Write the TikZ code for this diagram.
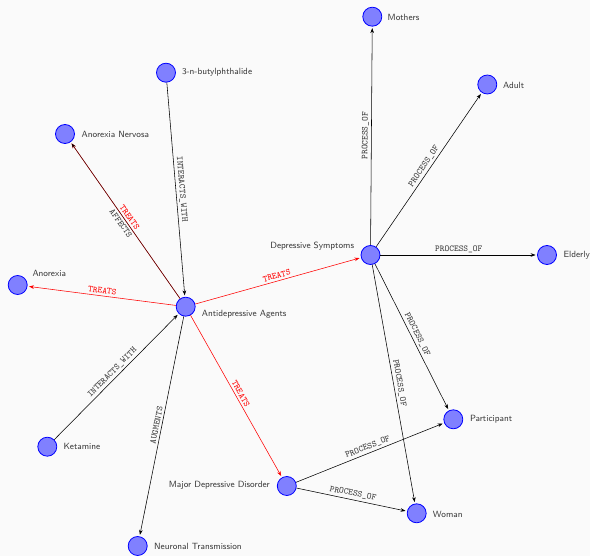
\documentclass[tikz,border=0pt]{standalone}
\usetikzlibrary{arrows.meta}
\definecolor{bgc}{RGB}{250,250,250}
\definecolor{txt}{RGB}{55,55,55}
\tikzset{
  ent/.style={circle, draw=blue, fill=blue!50, line width=0.8pt, minimum size=19pt, inner sep=0pt},
  lbl/.style={text=txt, font=\sffamily\fontsize{9}{11}\selectfont, inner sep=0pt},
  rel/.style={draw=black, line width=0.55pt, -{Stealth[length=5pt,width=3.6pt]}, shorten >=1.5pt},
  redrel/.style={rel, draw=red},
  elab/.style={font=\ttfamily\fontsize{9}{11}\selectfont, text=txt, sloped, above, midway, inner sep=2.2pt},
  redlab/.style={elab, text=red},
}
\begin{document}
\begin{tikzpicture}[x=1pt,y=-1pt]
\fill[bgc] (0,0) rectangle (590,556);
\useasboundingbox (0,0) rectangle (590,556);

% entities
\node[ent] (mo) at (372.3,16.7) {};
\node[ent] (ad) at (487.3,84.5) {};
\node[ent] (bp) at (166,72.7) {};
\node[ent] (an) at (65,134) {};
\node[ent] (ax) at (17.7,285) {};
\node[ent] (aa) at (185.7,306.7) {};
\node[ent] (ds) at (370.5,255) {};
\node[ent] (el) at (547,255) {};
\node[ent] (ke) at (47.3,446.7) {};
\node[ent] (nt) at (137.7,546) {};
\node[ent] (md) at (286.8,486) {};
\node[ent] (pa) at (453.3,419.3) {};
\node[ent] (wo) at (416.7,513.3) {};

% entity labels
\node[lbl, anchor=west] (moL) at (387.5,17) {Mothers};
\node[lbl, anchor=west] (adL) at (503,85) {Adult};
\node[lbl, anchor=west] (bpL) at (181.8,72.5) {3-n-butylphthalide};
\node[lbl, anchor=west] (anL) at (81.5,134) {Anorexia Nervosa};
\node[lbl, anchor=west] (axL) at (32.3,273.3) {Anorexia};
\node[lbl, anchor=west] (aaL) at (201.7,314) {Antidepressive Agents};
\node[lbl, anchor=east] (dsL) at (354.3,246) {Depressive Symptoms};
\node[lbl, anchor=west] (elL) at (563.3,255) {Elderly};
\node[lbl, anchor=west] (keL) at (63.3,446.7) {Ketamine};
\node[lbl, anchor=west] (ntL) at (154,546) {Neuronal Transmission};
\node[lbl, anchor=east] (mdL) at (270,485.7) {Major Depressive Disorder};
\node[lbl, anchor=west] (paL) at (469.8,419) {Participant};
\node[lbl, anchor=west] (woL) at (432.7,514) {Woman};

% relations
\draw[redrel] (aa) -- node[redlab] {TREATS} (an);
\draw[rel, draw opacity=0.7] (aa) -- node[elab, below] {AFFECTS} (an);
\draw[rel] (bp) -- node[elab] {INTERACTS\_WITH} (aa);
\draw[redrel] (aa) -- node[redlab] {TREATS} (ax);
\draw[redrel] (aa) -- node[redlab] {TREATS} (ds);
\draw[rel] (ke) -- node[elab] {INTERACTS\_WITH} (aa);
\draw[rel] (aa) -- node[elab] {AUGMENTS} (nt);
\draw[redrel] (aa) -- node[redlab] {TREATS} (md);
\draw[rel] (ds) -- node[elab] {PROCESS\_OF} (mo);
\draw[rel] (ds) -- node[elab] {PROCESS\_OF} (ad);
\draw[rel] (ds) -- node[elab] {PROCESS\_OF} (el);
\draw[rel] (ds) -- node[elab] {PROCESS\_OF} (pa);
\draw[rel] (ds) -- node[elab] {PROCESS\_OF} (wo);
\draw[rel] (md) -- node[elab] {PROCESS\_OF} (pa);
\draw[rel] (md) -- node[elab] {PROCESS\_OF} (wo);
\end{tikzpicture}
\end{document}
